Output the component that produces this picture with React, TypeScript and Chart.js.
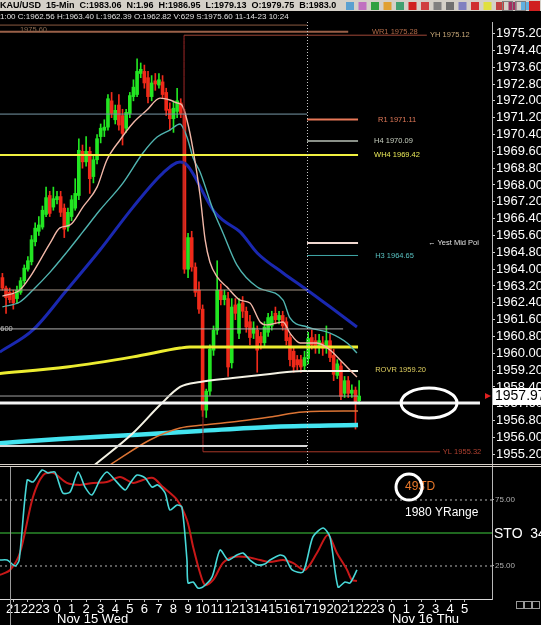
import React, { useEffect, useRef } from "react";
import { Chart, registerables } from "chart.js";
Chart.register(...registerables);

const FONT = '"Liberation Sans", Arial, sans-serif';

// ---------- candles (15-min slots, slot 0 = Nov 15 00:00) ----------
const firstSlot = -15;
const opens = [
  1963.6, 1963.1, 1962.9, 1962.8, 1962.6, 1962.9, 1963.45, 1964.0, 1964.35, 1965.3,
  1965.8, 1966.0, 1966.6, 1967.5, 1966.95, 1967.3, 1967.45, 1966.9, 1966.0, 1966.5,
  1966.9, 1967.5, 1969.6, 1969.1, 1969.6, 1968.4, 1969.2, 1970.3, 1970.6, 1970.75,
  1972.0, 1971.1, 1971.8, 1971.3, 1970.7, 1971.4, 1972.2, 1972.3, 1973.3, 1973.4,
  1973.1, 1972.2, 1972.95, 1972.75, 1972.9, 1972.4, 1971.6, 1971.15, 1971.5, 1971.9,
  1971.4, 1964.0, 1965.5, 1964.1, 1963.0, 1962.1, 1957.3, 1958.2, 1960.15, 1961.1,
  1963.0, 1962.55, 1962.6, 1959.55, 1962.3, 1960.95, 1962.4, 1962.0, 1961.5, 1960.95,
  1961.1, 1960.8, 1960.5, 1961.0, 1961.3, 1961.9, 1961.6, 1961.8, 1961.5, 1960.75,
  1960.1, 1959.7, 1959.7, 1959.4, 1959.75, 1960.75, 1960.6, 1960.3, 1960.5, 1960.25,
  1960.6, 1959.9, 1958.95, 1959.4, 1958.1, 1958.7, 1958.1, 1958.25, 1957.75,
];
const highs = [
  1963.8, 1963.2, 1963.1, 1963.0, 1963.2, 1963.6, 1964.2, 1964.6, 1965.6, 1966.2,
  1966.5, 1967.0, 1967.9, 1967.7, 1967.9, 1967.7, 1967.7, 1967.1, 1966.9, 1967.5,
  1968.3, 1970.2, 1969.9, 1970.3, 1969.8, 1969.4, 1970.4, 1970.9, 1971.1, 1972.3,
  1972.4, 1971.8, 1972.3, 1971.6, 1971.6, 1972.4, 1973.0, 1974.0, 1973.8, 1973.7,
  1973.4, 1973.2, 1973.3, 1973.3, 1973.2, 1972.6, 1971.9, 1972.0, 1972.6, 1972.1,
  1971.6, 1965.7, 1965.8, 1964.3, 1963.4, 1962.3, 1958.3, 1960.4, 1961.3, 1964.4,
  1963.3, 1963.0, 1962.9, 1962.6, 1962.6, 1962.6, 1962.7, 1962.2, 1961.8, 1961.5,
  1961.3, 1961.0, 1961.5, 1961.9, 1962.0, 1962.2, 1962.0, 1962.0, 1961.7, 1960.9,
  1960.3, 1959.9, 1959.9, 1960.1, 1961.0, 1961.1, 1960.9, 1960.9, 1960.8, 1961.3,
  1960.9, 1960.2, 1959.7, 1959.6, 1958.9, 1958.9, 1958.5, 1958.4, 1958.7,
];
const lows = [
  1963.0, 1961.9, 1962.4, 1962.1, 1962.4, 1962.8, 1963.3, 1963.9, 1964.2, 1965.1,
  1965.6, 1965.9, 1966.5, 1966.5, 1966.8, 1967.1, 1966.5, 1965.5, 1965.8, 1966.3,
  1966.8, 1967.3, 1968.8, 1968.9, 1967.6, 1968.1, 1969.0, 1970.0, 1970.3, 1970.6,
  1971.2, 1970.9, 1970.6, 1969.9, 1970.5, 1971.2, 1972.0, 1972.2, 1973.1, 1972.6,
  1971.9, 1972.0, 1972.5, 1972.6, 1972.1, 1971.3, 1970.6, 1970.5, 1971.2, 1971.2,
  1963.8, 1963.6, 1963.9, 1962.7, 1961.9, 1957.0, 1956.95, 1958.0, 1959.9, 1960.9,
  1962.3, 1962.3, 1958.9, 1959.3, 1961.6, 1960.7, 1961.7, 1961.0, 1960.4, 1960.7,
  1959.1, 1960.2, 1960.3, 1960.8, 1961.1, 1961.4, 1961.4, 1961.1, 1960.4, 1959.4,
  1959.1, 1959.2, 1959.1, 1959.2, 1959.5, 1960.2, 1960.0, 1960.0, 1959.9, 1960.0,
  1959.6, 1958.7, 1958.8, 1957.8, 1957.9, 1957.9, 1957.9, 1956.4, 1957.6,
];
const closes = [
  1963.1, 1962.65, 1962.55, 1962.4, 1963.0, 1963.45, 1964.05, 1964.4, 1965.4, 1965.95,
  1966.1, 1966.8, 1967.4, 1966.65, 1967.35, 1967.45, 1966.7, 1965.9, 1966.7, 1967.3,
  1967.6, 1969.65, 1969.1, 1969.6, 1968.3, 1969.2, 1970.2, 1970.7, 1970.75, 1972.1,
  1971.4, 1971.55, 1970.85, 1970.45, 1971.45, 1972.25, 1972.65, 1973.4, 1973.5, 1972.85,
  1972.2, 1972.85, 1972.8, 1973.0, 1972.3, 1971.55, 1971.15, 1971.65, 1972.0, 1971.4,
  1964.0, 1965.5, 1964.1, 1962.9, 1962.1, 1957.3, 1958.2, 1960.2, 1961.1, 1963.0,
  1962.55, 1962.75, 1959.35, 1962.2, 1961.9, 1962.35, 1962.0, 1961.25, 1960.75, 1961.2,
  1960.15, 1960.5, 1961.25, 1961.7, 1961.75, 1961.6, 1961.8, 1961.3, 1960.6, 1959.7,
  1959.35, 1959.45, 1959.35, 1959.8, 1960.7, 1960.4, 1960.3, 1960.6, 1960.25, 1960.6,
  1959.8, 1959.0, 1959.5, 1957.95, 1958.7, 1958.1, 1958.25, 1957.7, 1957.97,
];

// ---------- moving averages ----------
const fastMaSlots = [-15, -10.2, -7.4, -1.9, 0.8, 3.6, 7.1, 11, 13.7, 17.3, 20.9, 24.7, 28.3, 31, 33, 34.3, 35.7, 37.4, 39.3, 40.7, 42, 44, 46.7, 50.3, 53, 55.8, 57.7, 62.1, 64, 66.8, 71.4, 75, 78.6, 82.4];
const fastMaValues = [1962.72, 1963.01, 1963.63, 1965.24, 1965.96, 1966.1, 1966.95, 1967.9, 1969.19, 1970.14, 1970.95, 1971.56, 1972.13, 1972.04, 1971.9, 1971.8, 1971.09, 1969.66, 1967.52, 1965.39, 1964.34, 1963.63, 1963.15, 1962.53, 1962.39, 1961.49, 1961.35, 1961.49, 1960.96, 1960.49, 1960.49, 1960.16, 1959.54, 1958.87];
const midMaSlots = [-15, -10.2, -6.6, -1.9, 2.7, 7.1, 11.8, 18.1, 23.6, 27.5, 31, 33.8, 35.7, 37.4, 39.3, 42.9, 45.6, 49.4, 55, 62.1, 64, 68.7, 75, 79.7, 82.4];
const midMaValues = [1962.21, 1962.44, 1963.01, 1963.86, 1964.81, 1965.77, 1966.81, 1968.09, 1969.52, 1970.28, 1970.61, 1970.9, 1970.28, 1969.28, 1968.62, 1966.81, 1965.72, 1964.2, 1963.15, 1962.53, 1961.68, 1961.25, 1960.96, 1960.49, 1960.01];
const slowMaSlots = [-15.7, -6.6, 2.7, 11.8, 20.9, 29.1, 33.8, 35.7, 42.9, 45.6, 50.3, 55, 62.1, 68.7, 75, 82.4];
const slowMaValues = [1960.06, 1961.11, 1963.01, 1964.91, 1966.95, 1968.57, 1969.09, 1968.95, 1966.81, 1966.33, 1965.77, 1964.77, 1963.82, 1963.01, 1962.21, 1961.25];
const yellowSlots = [-16, 2.7, 20.9, 33.8, 36.5, 58.5, 82.7];
const yellowValues = [1959.04, 1959.35, 1959.83, 1960.25, 1960.3, 1960.3, 1960.3];
const whiteSlots = [10.4, 20.9, 28.3, 33.8, 39.3, 48.3, 58.5, 67.6, 82.7];
const whiteValues = [1954.7, 1956.21, 1957.54, 1958.4, 1958.64, 1958.83, 1959.02, 1959.16, 1959.16];
const orangeSlots = [14.6, 25.5, 33.8, 40.1, 50.3, 58.5, 67.6, 82.7];
const orangeValues = [1954.7, 1955.88, 1956.45, 1956.59, 1956.78, 1956.97, 1957.21, 1957.26];
const cyanSlots = [-16, 0.8, 20.9, 39.3, 58.5, 82.7];
const cyanValues = [1955.72, 1955.93, 1956.12, 1956.31, 1956.5, 1956.59];

// ---------- horizontal levels ----------
const levelPrices = [1975.6, 1975.28, 1975.12, 1971.37, 1971.11, 1970.09, 1969.42, 1965.24, 1964.65, 1963.01, 1961.16, 1957.97, 1957.64, 1955.59, 1955.32];
const levelFrom = [-16, -16, 34.9, -16, 68.7, 68.7, -16, 68.7, 68.7, -16, -16, -16, -16, -16, 40.1];
const levelTo = [68.7, 80, 101.6, 68.7, 82.7, 82.7, 82.7, 82.7, 82.7, 68.7, 78.6, 82.7, 116.2, 68.7, 105.2];
const levelTexts = ["1975.60", "WR1 1975.28", "YH 1975.12", "R1 1971.11", "H4 1970.09", "WH4 1969.42", "\u2190 Yest Mid Poi", "H3 1964.65", "ROVR 1959.20", "YL 1955.32", "600"];
const levelTextPrices = [1975.36, 1975.28, 1975.12, 1971.11, 1970.09, 1969.42, 1965.24, 1964.65, 1959.2, 1955.32, 1961.16];
const levelTextSlots = [-10.2, 86.5, 102.5, 88.2, 87.1, 87.1, 101.9, 87.4, 87.4, 106, -15.6];

// ---------- stochastic ----------
const stochKSlots = [-15.7, -13.7, -11.5, -10.4, -8.2, -6.6, -4.1, -2.5, -0.6, 1.6, 3.6, 5.8, 7.7, 9.6, 11.8, 13.7, 15.9, 18.7, 20.1, 22, 24.2, 26.1, 27.7, 29.7, 31, 33, 34.3, 35.7, 36, 37.4, 38.7, 40.1, 42.6, 44.8, 47, 49.4, 51.1, 53, 55.2, 57.1, 58.5, 61.3, 62.6, 64.6, 67.6, 70.3, 73.1, 75, 77.2, 79.1, 80.5, 82.4];
const stochKValues = [29.5, 29.5, 25, 29.5, 90, 88.6, 97.7, 95.5, 96.2, 80.3, 81, 96.2, 84.8, 78.8, 90.2, 96.2, 90.2, 82.6, 87.9, 93.9, 91.7, 84.8, 86.4, 80.3, 67.4, 71.2, 69.7, 29.5, 12.1, 12.9, 8.3, 9.1, 16.7, 37.1, 29.5, 33.3, 34.8, 29.5, 25.8, 26.5, 29.5, 33.3, 31.8, 22, 20.5, 47, 53.8, 47, 9.1, 12.9, 12.1, 22];
const stochDSlots = [-15.7, -12.9, -10.2, -6.6, -3.8, -1.1, 2.7, 6.3, 9.9, 13.7, 17.3, 20.9, 23.6, 26.4, 29.1, 33, 35.7, 37.4, 39.3, 40.7, 42.9, 45.6, 48.4, 52.2, 55.8, 58.5, 62.1, 64.8, 68.1, 71.4, 74.4, 76.9, 79.7, 81, 82.4];
const stochDValues = [18.2, 22, 34.8, 77.3, 93.9, 95.5, 87.9, 86.4, 87.9, 88.6, 92.4, 87.9, 90.2, 91.7, 84.8, 75, 59.8, 39.4, 19.7, 10.6, 14.4, 27.3, 31.8, 31.8, 29.5, 28, 29.5, 27.3, 22, 34.8, 48.5, 34.8, 22, 14.4, 13.6];
const stochLevels = [75, 50, 25];

// ---------- axes ----------
const hourTickSlots = [-12, -8, -4, 0, 4, 8, 12, 16, 20, 24, 28, 32, 36, 40, 44, 48, 52, 56, 60, 64, 68, 72, 76, 80, 84, 88, 92, 96, 100, 104, 108, 112];
const hourTickLabels = ["21", "22", "23", "0", "1", "2", "3", "4", "5", "6", "7", "8", "9", "10", "11", "12", "13", "14", "15", "16", "17", "19", "20", "21", "22", "23", "0", "1", "2", "3", "4", "5"];
const dateSlots = [0, 92];
const dateLabels = ["Nov 15 Wed", "Nov 16 Thu"];
const priceTicks = [1955.2, 1956.0, 1956.8, 1957.6, 1958.4, 1959.2, 1960.0, 1960.8, 1961.6, 1962.4, 1963.2, 1964.0, 1964.8, 1965.6, 1966.4, 1967.2, 1968.0, 1968.8, 1969.6, 1970.4, 1971.2, 1972.0, 1972.8, 1973.6, 1974.4, 1975.2];
const stochTicks = [25, 75];

const headerTop = "KAU/USD  15-Min  C:1983.06  N:1.96  H:1986.95  L:1979.13  O:1979.75  B:1983.0";
const headerSub = "1:00 C:1962.56 H:1963.40 L:1962.39 O:1962.82 V:629 S:1975.60 11-14-23 10:24";

const GREEN = "#22e622";
const RED = "#f02a1a";
const levelColors = ["#8a5a40", "#9a6048", "#a04838", "#7898a8", "#e87858", "#8a9088", "#f0f040", "#f0d8d0", "#40a8a8", "#a89888", "#b0b0b0", "#a0a0a0", "#f4f4f4", "#d8d8d8", "#a83828"];
const levelWidths = [1, 2, 1, 1, 2, 2, 2, 2, 1, 1, 1, 1, 3, 2, 1];
const levelTextColors = ["#8a6a50", "#b06a48", "#c8a878", "#e07858", "#c8d0c0", "#e8e858", "#e0e0e0", "#58c0c0", "#e0d060", "#b04030", "#c0c0c0"];

const X_MIN = -15.66;
const X_MAX = 119.5;

const pts = (xs: number[], ys: number[]) => xs.map((x, i) => ({ x, y: ys[i] }));

const overlay = {
  id: "overlay",
  beforeDraw(chart: any) {
    const { ctx, width, height } = chart;
    ctx.save();
    ctx.fillStyle = "#000";
    ctx.fillRect(0, 0, width, height);
    ctx.restore();
  },
  beforeDatasetsDraw(chart: any) {
    const { ctx } = chart;
    const x = chart.scales.x;
    const ys = chart.scales.ySto;
    ctx.save();
    ctx.textBaseline = "middle";
    ctx.font = `12px ${FONT}`;
    ctx.fillStyle = "#e8782a";
    ctx.fillText("493", x.getPixelForValue(95.6), ys.getPixelForValue(84.8));
    ctx.fillText("TD", x.getPixelForValue(99.5), ys.getPixelForValue(84.8));
    ctx.fillStyle = "#ffffff";
    ctx.fillText("1980 YRange", x.getPixelForValue(95.6), ys.getPixelForValue(65));
    ctx.restore();
  },
  afterDatasetsDraw(chart: any) {
    const { ctx, chartArea } = chart;
    const x = chart.scales.x;
    const y = chart.scales.y;
    ctx.save();
    // session separator (dotted)
    ctx.strokeStyle = "#c8c8c8";
    ctx.lineWidth = 1;
    ctx.setLineDash([1, 2]);
    const sx = Math.round(x.getPixelForValue(68.7)) + 0.5;
    ctx.beginPath();
    ctx.moveTo(sx, chartArea.top);
    ctx.lineTo(sx, y.bottom);
    ctx.stroke();
    ctx.setLineDash([]);
    // level labels
    ctx.textBaseline = "middle";
    ctx.font = `7.5px ${FONT}`;
    levelTexts.forEach((t, i) => {
      ctx.fillStyle = levelTextColors[i];
      ctx.fillText(t, x.getPixelForValue(levelTextSlots[i]), y.getPixelForValue(levelTextPrices[i]));
    });
    // ellipse
    ctx.strokeStyle = "#ffffff";
    ctx.lineWidth = 3;
    ctx.beginPath();
    ctx.ellipse(x.getPixelForValue(102.2), y.getPixelForValue(1957.64), 28, 15, 0, 0, Math.PI * 2);
    ctx.stroke();
    ctx.restore();
  },
  afterDraw(chart: any) {
    const { ctx, width } = chart;
    const x = chart.scales.x;
    const y = chart.scales.y;
    const ys = chart.scales.ySto;
    ctx.save();
    // pane separator
    ctx.fillStyle = "#d8d0c8";
    ctx.fillRect(0, y.bottom - 1, width, 1);
    ctx.fillRect(0, y.bottom + 1, width, 1);
    // vertical marker through lower pane
    ctx.fillStyle = "#9a9a9a";
    const vx = Math.round(x.getPixelForValue(-12.9));
    ctx.fillRect(vx, ys.top + 2, 1, 625 - ys.top);
    // header rows
    ctx.fillStyle = "#d4d0c8";
    ctx.fillRect(0, 0, width, 11);
    ctx.fillStyle = "#000";
    ctx.textBaseline = "middle";
    ctx.font = `bold 9px ${FONT}`;
    ctx.fillText(headerTop, 0, 6);
    ctx.fillStyle = "#000";
    ctx.fillRect(0, 11, width, 10);
    ctx.fillStyle = "#e0e0e0";
    ctx.font = `8px ${FONT}`;
    ctx.fillText(headerSub, 0, 16.5);
    // simple toolbar glyphs
    const iconColors = ["#5aa0d0", "#c070c0", "#30a040", "#e0a030", "#40a070", "#d02020", "#d04040", "#808080", "#707070", "#8080c0", "#d03030", "#e0e040", "#c04040", "#a03060", "#60b0e0"];
    iconColors.forEach((c, i) => {
      ctx.fillStyle = c;
      ctx.fillRect(346 + i * 12.5, 2, 8, 8);
    });
    ctx.strokeStyle = "#808080";
    ctx.lineWidth = 1;
    ctx.strokeRect(502.5, 1.5, 10, 9);
    ctx.strokeRect(515.5, 1.5, 10, 9);
    ctx.fillStyle = "#d02020";
    ctx.fillRect(529, 1, 11, 10);
    // current price box
    const py = y.getPixelForValue(closes[closes.length - 1]);
    ctx.fillStyle = "#ffffff";
    ctx.fillRect(493, Math.round(py) - 8, 48, 17);
    ctx.fillStyle = "#000";
    ctx.font = `14px ${FONT}`;
    ctx.textBaseline = "middle";
    ctx.fillText(closes[closes.length - 1].toFixed(2), 495, py + 0.5);
    ctx.fillStyle = "#e02020";
    ctx.beginPath();
    ctx.moveTo(485, py - 3);
    ctx.lineTo(491, py);
    ctx.lineTo(485, py + 3);
    ctx.closePath();
    ctx.fill();
    // stochastic label
    ctx.fillStyle = "#ffffff";
    ctx.font = `14px ${FONT}`;
    ctx.fillText("STO  34", 494, ys.getPixelForValue(50) + 1);
    // dates
    ctx.font = `13px ${FONT}`;
    ctx.textAlign = "left";
    dateLabels.forEach((d, i) => {
      ctx.fillText(d, x.getPixelForValue(dateSlots[i]), 619);
    });
    // corner boxes
    ctx.strokeStyle = "#9a9a9a";
    [516.5, 524.5, 532.5].forEach((bx) => ctx.strokeRect(bx, 601.5, 7, 7));
    ctx.restore();
  },
};

export default function App() {
  const ref = useRef<HTMLCanvasElement>(null);
  useEffect(() => {
    const canvas = ref.current;
    if (!canvas) return;
    const slots = opens.map((_, i) => firstSlot + i);
    const colors = opens.map((o, i) => (closes[i] >= o ? GREEN : RED));
    const wickData = slots.map((s, i) => ({ x: s, y: [lows[i], highs[i]] }));
    const bodyData = slots.map((s, i) => ({ x: s, y: [opens[i], closes[i]] }));

    const line = (data: any[], color: string, width: number, order: number, axis = "y", extra: any = {}) => ({
      type: "line",
      data,
      borderColor: color,
      borderWidth: width,
      pointRadius: 0,
      yAxisID: axis,
      order,
      cubicInterpolationMode: "monotone",
      ...extra,
    });

    const datasets: any[] = [
      {
        type: "line",
        data: [{ x: 96.7, y: 84.8 }],
        showLine: false,
        pointRadius: 13,
        pointBorderWidth: 3,
        pointBorderColor: "#ffffff",
        pointBackgroundColor: "rgba(0,0,0,0)",
        yAxisID: "ySto",
        order: 0,
      },
      line(pts(stochKSlots, stochKValues), "#48d8d8", 1.6, 1, "ySto", { cubicInterpolationMode: "default", tension: 0.25 }),
      line(pts(stochDSlots, stochDValues), "#c81818", 2, 2, "ySto", { cubicInterpolationMode: "default", tension: 0.3 }),
      ...stochLevels.map((v) =>
        line([{ x: X_MIN, y: v }, { x: X_MAX, y: v }], v === 50 ? "#2a8a2a" : "#b8b8b8", v === 50 ? 1.5 : 1, 3, "ySto", v === 50 ? {} : { borderDash: [2, 3] })
      ),
      ...levelPrices.map((p, i) =>
        line([{ x: levelFrom[i], y: p }, { x: levelTo[i], y: p }], levelColors[i], levelWidths[i], 4)
      ),
      line([{ x: 34.9, y: 1975.12 }, { x: 34.9, y: 1964.9 }], "#a02828", 1, 4),
      line([{ x: 40.1, y: 1955.32 }, { x: 40.1, y: 1957.8 }], "#a02828", 1, 4),
      line(pts(fastMaSlots, fastMaValues), "#f2b8a8", 1.4, 5),
      line(pts(midMaSlots, midMaValues), "#50b4b0", 1.4, 6),
      line(pts(slowMaSlots, slowMaValues), "#1a28b0", 3, 7),
      line(pts(yellowSlots, yellowValues), "#ecec30", 3, 8),
      line(pts(whiteSlots, whiteValues), "#f4f2e4", 2, 8),
      line(pts(orangeSlots, orangeValues), "#dc7434", 1.5, 8),
      line(pts(cyanSlots, cyanValues), "#44e4f0", 4.5, 8),
      {
        type: "bar",
        data: bodyData,
        backgroundColor: colors,
        barThickness: 3,
        minBarLength: 1,
        grouped: false,
        yAxisID: "y",
        order: 9,
      },
      {
        type: "bar",
        data: wickData,
        backgroundColor: colors,
        barThickness: 1,
        grouped: false,
        yAxisID: "y",
        order: 10,
      },
    ];

    const chart = new Chart(canvas, {
      type: "bar",
      data: { datasets },
      plugins: [overlay],
      options: {
        responsive: false,
        maintainAspectRatio: false,
        devicePixelRatio: 1,
        animation: false,
        events: [],
        layout: { autoPadding: false, padding: { top: 22, left: 0, right: 0, bottom: 0 } },
        plugins: { legend: { display: false }, tooltip: { enabled: false } },
        scales: {
          x: {
            type: "linear",
            min: X_MIN,
            max: X_MAX,
            offset: false,
            grid: { display: true, drawOnChartArea: false, drawTicks: true, tickLength: 3, color: "#c0c0c0", offset: false },
            border: { display: true, color: "#d8d8d8" },
            ticks: {
              autoSkip: false,
              maxRotation: 0,
              minRotation: 0,
              color: "#ffffff",
              padding: 0,
              font: { family: FONT, size: 13 },
              callback: (_v: any, i: number) => hourTickLabels[i],
            },
            afterBuildTicks: (s: any) => {
              s.ticks = hourTickSlots.map((v) => ({ value: v }));
            },
            afterFit: (s: any) => {
              s.height = 26;
              s.paddingLeft = 0;
              s.paddingRight = 0;
            },
          },
          y: {
            type: "linear",
            position: "right",
            stack: "panes",
            stackWeight: 443,
            weight: 0,
            min: 1954.692,
            max: 1975.747,
            grid: { drawOnChartArea: false, drawTicks: true, tickLength: 3, color: "#d0d0d0" },
            border: { display: true, color: "#b8b8b8" },
            ticks: {
              autoSkip: false,
              color: "#ffffff",
              padding: 1,
              font: { family: FONT, size: 13 },
              callback: (v: any) => Number(v).toFixed(2),
            },
            afterBuildTicks: (s: any) => {
              s.ticks = priceTicks.map((v) => ({ value: v }));
            },
            afterFit: (s: any) => {
              s.width = 49;
              s.paddingTop = 0;
              s.paddingBottom = 0;
            },
          },
          ySto: {
            type: "linear",
            position: "right",
            stack: "panes",
            stackWeight: 134,
            weight: 1,
            min: 0,
            max: 101.5,
            grid: { drawOnChartArea: false, drawTicks: true, tickLength: 2, color: "#a0a0a0" },
            border: { display: true, color: "#b8b8b8" },
            ticks: {
              autoSkip: false,
              color: "#b0b0b0",
              padding: 1,
              font: { family: FONT, size: 8 },
              callback: (v: any) => Number(v).toFixed(2),
            },
            afterBuildTicks: (s: any) => {
              s.ticks = stochTicks.map((v) => ({ value: v }));
            },
            afterFit: (s: any) => {
              s.width = 49;
              s.paddingTop = 0;
              s.paddingBottom = 0;
            },
          },
        },
      } as any,
    } as any);
    return () => chart.destroy();
  }, []);

  return (
    <div style={{ position: "fixed", left: 0, top: 0, width: 541, height: 625, background: "#000" }}>
      <canvas ref={ref} width={541} height={625} style={{ display: "block", width: 541, height: 625 }} />
    </div>
  );
}
